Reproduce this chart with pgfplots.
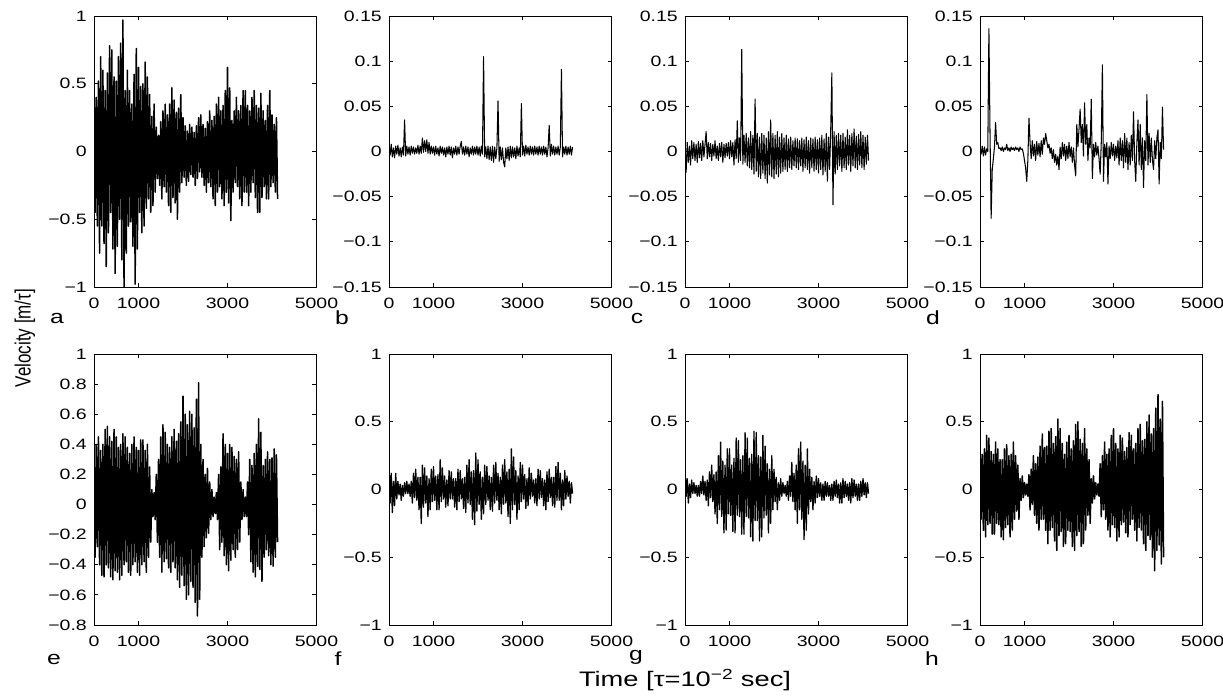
\documentclass[border=0pt]{standalone}
\usepackage{fontspec}
\setmainfont{Liberation Sans}
\usepackage{graphicx}
\usepackage{pgfplots}
\usepackage{pgfplotstable}
\pgfplotsset{compat=1.18}

% one value every 25 time steps
\pgfplotstableread[row sep=\\]{y\\
0.55\\ -0.45\\ 0.40\\ -0.55\\ 0.52\\ -0.75\\ 0.70\\ -0.55\\ 0.60\\ -0.68\\ 0.45\\ -0.85\\
0.58\\ -0.60\\ 0.78\\ -0.45\\ 0.75\\ -0.72\\ 0.55\\ -0.90\\ 0.52\\ -0.70\\ 0.70\\ -0.50\\
0.80\\ -0.80\\ 0.97\\ -1.00\\ 0.45\\ -0.75\\ 0.60\\ -0.55\\ 0.45\\ -0.52\\ 0.35\\ -0.70\\
0.57\\ -0.98\\ 0.76\\ -0.72\\ 0.62\\ -0.45\\ 0.48\\ -0.60\\ 0.50\\ -0.55\\ 0.66\\ -0.42\\
0.55\\ -0.35\\ 0.42\\ -0.45\\ 0.26\\ -0.40\\ 0.35\\ -0.30\\ 0.18\\ -0.20\\ 0.12\\ -0.25\\
0.22\\ -0.35\\ 0.30\\ -0.26\\ 0.35\\ -0.30\\ 0.27\\ -0.40\\ 0.35\\ -0.45\\ 0.47\\ -0.34\\
0.38\\ -0.38\\ 0.29\\ -0.50\\ 0.32\\ -0.30\\ 0.42\\ -0.23\\ 0.25\\ -0.19\\ 0.19\\ -0.25\\
0.15\\ -0.22\\ 0.20\\ -0.17\\ 0.18\\ -0.19\\ 0.14\\ -0.25\\ 0.19\\ -0.20\\ 0.25\\ -0.15\\
0.27\\ -0.19\\ 0.20\\ -0.25\\ 0.17\\ -0.30\\ 0.22\\ -0.23\\ 0.30\\ -0.26\\ 0.23\\ -0.35\\
0.26\\ -0.40\\ 0.35\\ -0.30\\ 0.40\\ -0.26\\ 0.30\\ -0.35\\ 0.34\\ -0.40\\ 0.45\\ -0.30\\
0.62\\ -0.38\\ 0.47\\ -0.51\\ 0.23\\ -0.30\\ 0.30\\ -0.23\\ 0.40\\ -0.26\\ 0.30\\ -0.35\\
0.34\\ -0.40\\ 0.45\\ -0.30\\ 0.45\\ -0.30\\ 0.34\\ -0.40\\ 0.30\\ -0.30\\ 0.40\\ -0.23\\
0.45\\ -0.34\\ 0.34\\ -0.45\\ 0.32\\ -0.45\\ 0.43\\ -0.34\\ 0.30\\ -0.26\\ 0.23\\ -0.35\\
0.34\\ -0.35\\ 0.45\\ -0.26\\ 0.27\\ -0.23\\ 0.20\\ -0.30\\ 0.25\\ -0.35\\
}\tA

\pgfplotstableread[row sep=\\]{y\\
0.005\\ -0.004\\ 0.008\\ -0.006\\ 0.004\\ -0.007\\ 0.006\\ -0.003\\ 0.007\\ -0.005\\
0.004\\ -0.006\\ 0.005\\ -0.004\\ 0.035\\ -0.005\\ 0.006\\ -0.003\\ 0.005\\ -0.004\\
0.006\\ -0.002\\ 0.005\\ -0.003\\ 0.004\\ -0.002\\ 0.007\\ -0.003\\ 0.006\\ -0.002\\
0.015\\ -0.001\\ 0.012\\ 0.000\\ 0.013\\ -0.002\\ 0.010\\ -0.003\\ 0.006\\ -0.002\\
0.005\\ -0.004\\ 0.006\\ -0.003\\ 0.004\\ -0.005\\ 0.006\\ -0.002\\ 0.005\\ -0.004\\
0.004\\ -0.006\\ 0.005\\ -0.003\\ 0.006\\ -0.004\\ 0.005\\ -0.007\\ 0.004\\ -0.003\\
0.006\\ -0.004\\ 0.005\\ -0.003\\ 0.006\\ 0.011\\ -0.003\\ 0.005\\ -0.004\\ 0.006\\
-0.003\\ 0.005\\ -0.006\\ 0.004\\ -0.003\\ 0.006\\ -0.004\\ 0.005\\ -0.003\\ 0.006\\
-0.004\\ 0.005\\ -0.005\\ 0.006\\ -0.003\\ 0.105\\ -0.006\\ 0.005\\ -0.008\\ 0.006\\
-0.009\\ 0.005\\ -0.010\\ 0.006\\ -0.012\\ 0.005\\ -0.008\\ 0.004\\ 0.056\\ -0.011\\
0.005\\ -0.009\\ 0.004\\ -0.012\\ -0.017\\ 0.004\\ -0.008\\ 0.005\\ -0.010\\ 0.006\\
-0.007\\ 0.005\\ -0.006\\ 0.004\\ -0.008\\ 0.006\\ -0.005\\ 0.004\\ -0.006\\ 0.053\\
-0.004\\ 0.006\\ -0.005\\ 0.007\\ -0.003\\ 0.005\\ -0.004\\ 0.006\\ -0.003\\ 0.005\\
-0.004\\ 0.006\\ -0.003\\ 0.005\\ -0.004\\ 0.006\\ -0.003\\ 0.005\\ -0.004\\ 0.006\\
-0.003\\ 0.005\\ -0.006\\ 0.004\\ 0.029\\ -0.005\\ 0.008\\ -0.003\\ 0.006\\ -0.004\\
0.005\\ -0.003\\ 0.006\\ -0.004\\ 0.005\\ 0.091\\ -0.006\\ 0.005\\ -0.003\\ 0.006\\
-0.004\\ 0.005\\ -0.003\\ 0.006\\ -0.004\\ 0.005\\
}\tB

\pgfplotstableread[row sep=\\]{y\\
0.008\\ -0.023\\ 0.010\\ -0.012\\ 0.006\\ -0.015\\ 0.012\\ -0.008\\ 0.010\\ -0.010\\
0.008\\ -0.012\\ 0.011\\ -0.007\\ 0.009\\ -0.010\\ 0.012\\ -0.006\\ 0.008\\ 0.022\\
-0.008\\ 0.010\\ -0.006\\ 0.009\\ -0.010\\ 0.008\\ -0.005\\ 0.012\\ -0.008\\ 0.006\\
-0.010\\ 0.009\\ -0.006\\ 0.010\\ -0.012\\ 0.008\\ -0.007\\ 0.009\\ -0.005\\ 0.010\\
-0.008\\ 0.012\\ -0.006\\ 0.010\\ -0.015\\ 0.013\\ -0.008\\ 0.034\\ -0.012\\ 0.015\\
-0.010\\ 0.113\\ -0.014\\ 0.018\\ -0.012\\ 0.020\\ -0.016\\ 0.015\\ -0.018\\ 0.022\\
-0.020\\ 0.018\\ -0.025\\ 0.058\\ -0.022\\ 0.020\\ -0.028\\ 0.016\\ -0.030\\ 0.020\\
-0.024\\ 0.018\\ -0.030\\ 0.015\\ -0.035\\ 0.022\\ -0.026\\ 0.035\\ -0.028\\ 0.020\\
-0.030\\ 0.018\\ -0.025\\ 0.022\\ -0.028\\ 0.016\\ -0.024\\ 0.020\\ -0.022\\ 0.015\\
-0.020\\ 0.018\\ -0.022\\ 0.014\\ -0.018\\ 0.016\\ -0.020\\ 0.012\\ -0.016\\ 0.015\\
-0.018\\ 0.014\\ -0.020\\ 0.012\\ -0.016\\ 0.015\\ -0.022\\ 0.013\\ -0.018\\ 0.016\\
-0.020\\ 0.012\\ -0.024\\ 0.015\\ -0.018\\ 0.014\\ -0.022\\ 0.016\\ -0.020\\ 0.013\\
-0.024\\ 0.015\\ -0.020\\ 0.018\\ -0.026\\ 0.014\\ -0.022\\ 0.020\\ -0.033\\ 0.016\\
-0.020\\ 0.025\\ 0.087\\ -0.059\\ 0.022\\ -0.025\\ 0.018\\ -0.020\\ 0.020\\ -0.016\\
0.018\\ -0.022\\ 0.020\\ -0.018\\ 0.016\\ -0.020\\ 0.024\\ -0.015\\ 0.018\\ -0.022\\
0.020\\ -0.016\\ 0.025\\ -0.018\\ 0.017\\ -0.020\\ 0.019\\ -0.015\\ 0.022\\ -0.018\\
0.018\\ -0.020\\ 0.016\\ -0.014\\ 0.018\\ -0.010\\
}\tC

\pgfplotstableread[row sep=\\]{y\\
0.004\\ -0.003\\ 0.006\\ -0.005\\ 0.005\\ -0.004\\ 0.003\\ 0.000\\
0.136\\ 0.020\\ -0.074\\ -0.020\\ -0.008\\ 0.005\\ 0.032\\ 0.008\\ 0.010\\ 0.003\\
0.004\\ 0.001\\ 0.005\\ 0.000\\ 0.004\\ 0.002\\ 0.008\\ 0.001\\ 0.004\\ 0.000\\ 0.005\\
0.002\\ 0.004\\ 0.001\\ 0.005\\ 0.002\\ 0.004\\ 0.000\\ 0.005\\ 0.002\\ 0.003\\ -0.002\\
-0.010\\ -0.018\\ -0.033\\ -0.010\\ 0.037\\
0.010\\ -0.008\\ 0.012\\ -0.005\\ 0.008\\ -0.010\\ 0.011\\ -0.004\\ 0.009\\ -0.006\\
0.012\\ -0.003\\ 0.015\\ 0.008\\ 0.020\\
0.012\\ 0.004\\ 0.008\\ -0.002\\ 0.004\\ -0.008\\ 0.002\\ -0.012\\ -0.003\\ -0.015\\ -0.005\\ -0.020\\
0.005\\ -0.008\\ 0.010\\ -0.005\\ 0.008\\ -0.010\\ 0.006\\ -0.008\\ 0.010\\ -0.006\\ 0.005\\ -0.012\\ 0.004\\ -0.015\\
-0.027\\ 0.030\\ 0.005\\ 0.025\\ 0.047\\ 0.010\\ 0.030\\ -0.005\\ 0.054\\ 0.008\\ 0.030\\ -0.010\\ 0.015\\ 0.004\\
0.058\\ -0.030\\ 0.008\\ -0.006\\ 0.010\\ -0.004\\ 0.006\\ -0.008\\
-0.025\\ 0.010\\ 0.096\\ -0.033\\
0.008\\ -0.006\\ 0.010\\ -0.036\\ 0.006\\ -0.008\\ 0.010\\ -0.005\\ 0.008\\ -0.010\\ 0.006\\ -0.007\\
0.012\\ -0.015\\ 0.015\\ -0.010\\ 0.012\\ -0.018\\ 0.020\\ -0.012\\ 0.015\\ -0.020\\ 0.010\\ -0.015\\ 0.018\\ -0.010\\
0.044\\ -0.010\\ -0.033\\ 0.010\\ 0.035\\ -0.015\\ 0.030\\ -0.020\\ 0.015\\ -0.040\\
0.012\\ -0.010\\ 0.063\\ -0.015\\ 0.020\\ -0.012\\ 0.015\\ -0.010\\ -0.020\\ 0.012\\
-0.008\\ 0.015\\ 0.024\\ -0.036\\ 0.010\\ -0.008\\ 0.049\\ 0.002\\
}\tD

\pgfplotstableread[row sep=\\]{y\\
0.30\\ -0.35\\ 0.40\\ -0.28\\ 0.45\\ -0.40\\ 0.36\\ -0.47\\ 0.40\\ -0.48\\ 0.50\\ -0.40\\
0.52\\ -0.42\\ 0.45\\ -0.48\\ 0.42\\ -0.50\\ 0.50\\ -0.44\\ 0.45\\ -0.45\\ 0.38\\ -0.50\\
0.40\\ -0.47\\ 0.47\\ -0.40\\ 0.45\\ -0.38\\ 0.38\\ -0.45\\ 0.34\\ -0.47\\ 0.40\\ -0.40\\
0.45\\ -0.38\\ 0.38\\ -0.45\\ 0.36\\ -0.47\\ 0.43\\ -0.40\\ 0.43\\ -0.38\\ 0.36\\ -0.45\\
0.40\\ -0.35\\ 0.25\\ -0.25\\ 0.10\\ -0.08\\ 0.08\\ -0.10\\ 0.20\\ -0.25\\ 0.30\\ -0.35\\
0.45\\ -0.45\\ 0.53\\ -0.38\\ 0.48\\ -0.36\\ 0.40\\ -0.42\\ 0.38\\ -0.45\\ 0.45\\ -0.38\\
0.50\\ -0.42\\ 0.42\\ -0.50\\ 0.47\\ -0.55\\ 0.55\\ -0.47\\ 0.72\\ -0.54\\ 0.60\\ -0.63\\
0.53\\ -0.60\\ 0.62\\ -0.51\\ 0.60\\ -0.55\\ 0.51\\ -0.65\\ 0.70\\ -0.74\\ 0.81\\ -0.63\\
0.40\\ -0.35\\ 0.30\\ -0.28\\ 0.20\\ -0.22\\ 0.24\\ -0.19\\ 0.15\\ -0.10\\ 0.10\\ -0.08\\
0.05\\ -0.06\\ 0.08\\ -0.10\\ 0.20\\ -0.30\\ 0.25\\ -0.25\\ 0.47\\ -0.34\\ 0.40\\ -0.40\\
0.34\\ -0.44\\ 0.40\\ -0.37\\ 0.38\\ -0.30\\ 0.32\\ -0.35\\ 0.30\\ -0.30\\ 0.35\\ -0.25\\
0.15\\ -0.10\\ 0.10\\ -0.08\\ 0.05\\ -0.08\\ 0.15\\ -0.20\\ 0.30\\ -0.38\\ 0.26\\ -0.45\\
0.34\\ -0.48\\ 0.40\\ -0.41\\ 0.57\\ -0.43\\ 0.48\\ -0.51\\ 0.26\\ -0.35\\ 0.30\\ -0.30\\
0.35\\ -0.34\\ 0.30\\ -0.40\\ 0.31\\ -0.41\\ 0.37\\ -0.35\\ 0.33\\ -0.25\\
}\tE

\pgfplotstableread[row sep=\\]{y\\
0.20\\ -0.10\\ 0.12\\ -0.17\\ 0.06\\ -0.12\\ 0.12\\ -0.07\\ 0.06\\ -0.04\\ 0.04\\ -0.08\\
0.03\\ -0.05\\ 0.05\\ -0.03\\ 0.06\\ -0.03\\ 0.04\\ -0.05\\ 0.06\\ -0.10\\ 0.12\\ -0.06\\
0.15\\ -0.08\\ 0.09\\ -0.15\\ 0.09\\ -0.25\\ 0.18\\ -0.13\\ 0.16\\ -0.10\\ 0.10\\ -0.20\\
0.08\\ -0.15\\ 0.15\\ -0.09\\ 0.17\\ -0.08\\ 0.10\\ -0.15\\ 0.11\\ -0.15\\ 0.22\\ -0.09\\
0.16\\ -0.07\\ 0.10\\ -0.13\\ 0.07\\ -0.12\\ 0.14\\ -0.07\\ 0.13\\ -0.07\\ 0.08\\ -0.13\\
0.08\\ -0.15\\ 0.15\\ -0.09\\ 0.14\\ -0.07\\ 0.08\\ -0.14\\ 0.09\\ -0.17\\ 0.18\\ -0.10\\
0.22\\ -0.11\\ 0.13\\ -0.22\\ 0.14\\ -0.26\\ 0.27\\ -0.16\\ 0.22\\ -0.11\\ 0.13\\ -0.22\\
0.09\\ -0.18\\ 0.18\\ -0.11\\ 0.17\\ -0.08\\ 0.10\\ -0.15\\ 0.09\\ -0.16\\ 0.18\\ -0.10\\
0.20\\ -0.08\\ 0.12\\ -0.15\\ 0.09\\ -0.18\\ 0.18\\ -0.11\\ 0.22\\ -0.10\\ 0.13\\ -0.20\\
0.15\\ -0.25\\ 0.30\\ -0.15\\ 0.24\\ -0.11\\ 0.14\\ -0.22\\ 0.10\\ -0.15\\ 0.20\\ -0.09\\
0.18\\ -0.07\\ 0.11\\ -0.14\\ 0.08\\ -0.12\\ 0.16\\ -0.07\\ 0.12\\ -0.05\\ 0.07\\ -0.10\\
0.08\\ -0.12\\ 0.15\\ -0.07\\ 0.14\\ -0.06\\ 0.08\\ -0.12\\ 0.07\\ -0.15\\ 0.13\\ -0.09\\
0.15\\ -0.06\\ 0.09\\ -0.12\\ 0.09\\ -0.13\\ 0.17\\ -0.08\\ 0.20\\ -0.08\\ 0.12\\ -0.15\\
0.07\\ -0.12\\ 0.14\\ -0.07\\ 0.10\\ -0.05\\ 0.06\\ -0.10\\ 0.05\\ -0.03\\
}\tF

\pgfplotstableread[row sep=\\]{y\\
0.15\\ -0.05\\ 0.08\\ -0.10\\ 0.04\\ -0.06\\ 0.07\\ -0.03\\ 0.05\\ -0.03\\ 0.03\\ -0.05\\
0.03\\ -0.05\\ 0.06\\ -0.03\\ 0.10\\ -0.04\\ 0.06\\ -0.08\\ 0.07\\ -0.12\\ 0.13\\ -0.06\\
0.18\\ -0.09\\ 0.11\\ -0.18\\ 0.13\\ -0.25\\ 0.25\\ -0.15\\ 0.35\\ -0.20\\ 0.21\\ -0.32\\
0.18\\ -0.30\\ 0.30\\ -0.18\\ 0.30\\ -0.19\\ 0.18\\ -0.31\\ 0.23\\ -0.32\\ 0.38\\ -0.19\\
0.36\\ -0.20\\ 0.22\\ -0.33\\ 0.25\\ -0.33\\ 0.42\\ -0.20\\ 0.38\\ -0.21\\ 0.23\\ -0.35\\
0.26\\ -0.38\\ 0.43\\ -0.23\\ 0.42\\ -0.23\\ 0.25\\ -0.38\\ 0.24\\ -0.35\\ 0.40\\ -0.21\\
0.32\\ -0.19\\ 0.19\\ -0.32\\ 0.15\\ -0.25\\ 0.25\\ -0.15\\ 0.15\\ -0.09\\ 0.09\\ -0.15\\
0.05\\ -0.08\\ 0.08\\ -0.05\\ 0.05\\ -0.03\\ 0.03\\ -0.05\\ 0.06\\ -0.08\\ 0.10\\ -0.05\\
0.20\\ -0.09\\ 0.12\\ -0.15\\ 0.18\\ -0.25\\ 0.30\\ -0.15\\ 0.35\\ -0.22\\ 0.21\\ -0.37\\
0.18\\ -0.30\\ 0.30\\ -0.18\\ 0.15\\ -0.09\\ 0.09\\ -0.15\\ 0.06\\ -0.10\\ 0.10\\ -0.06\\
0.08\\ -0.05\\ 0.05\\ -0.08\\ 0.04\\ -0.08\\ 0.06\\ -0.05\\ 0.05\\ -0.05\\ 0.03\\ -0.08\\
0.04\\ -0.08\\ 0.06\\ -0.05\\ 0.07\\ -0.06\\ 0.04\\ -0.10\\ 0.05\\ -0.10\\ 0.08\\ -0.06\\
0.06\\ -0.05\\ 0.04\\ -0.08\\ 0.05\\ -0.10\\ 0.08\\ -0.06\\ 0.07\\ -0.05\\ 0.04\\ -0.08\\
0.04\\ -0.08\\ 0.06\\ -0.05\\ 0.08\\ -0.04\\ 0.05\\ -0.06\\ 0.05\\ -0.03\\
}\tG

\pgfplotstableread[row sep=\\]{y\\
0.35\\ -0.22\\ 0.26\\ -0.30\\ 0.30\\ -0.35\\ 0.40\\ -0.26\\ 0.38\\ -0.25\\ 0.28\\ -0.33\\
0.26\\ -0.33\\ 0.35\\ -0.25\\ 0.30\\ -0.26\\ 0.22\\ -0.35\\ 0.22\\ -0.37\\ 0.30\\ -0.28\\
0.33\\ -0.26\\ 0.25\\ -0.35\\ 0.26\\ -0.30\\ 0.35\\ -0.22\\ 0.25\\ -0.16\\ 0.18\\ -0.22\\
0.08\\ -0.08\\ 0.10\\ -0.06\\ 0.05\\ -0.04\\ 0.04\\ -0.05\\ 0.11\\ -0.15\\ 0.15\\ -0.11\\
0.25\\ -0.19\\ 0.19\\ -0.25\\ 0.24\\ -0.30\\ 0.32\\ -0.22\\ 0.41\\ -0.22\\ 0.31\\ -0.30\\
0.32\\ -0.40\\ 0.43\\ -0.30\\ 0.45\\ -0.28\\ 0.34\\ -0.38\\ 0.39\\ -0.45\\ 0.52\\ -0.34\\
0.45\\ -0.31\\ 0.34\\ -0.42\\ 0.26\\ -0.40\\ 0.35\\ -0.30\\ 0.40\\ -0.31\\ 0.30\\ -0.42\\
0.36\\ -0.45\\ 0.48\\ -0.34\\ 0.50\\ -0.31\\ 0.37\\ -0.42\\ 0.34\\ -0.40\\ 0.45\\ -0.30\\
0.30\\ -0.19\\ 0.22\\ -0.25\\ 0.08\\ -0.10\\ 0.10\\ -0.07\\ 0.05\\ -0.04\\ 0.04\\ -0.05\\
0.19\\ -0.20\\ 0.25\\ -0.15\\ 0.35\\ -0.22\\ 0.26\\ -0.30\\ 0.30\\ -0.35\\ 0.40\\ -0.26\\
0.45\\ -0.28\\ 0.34\\ -0.38\\ 0.30\\ -0.35\\ 0.40\\ -0.26\\ 0.38\\ -0.24\\ 0.28\\ -0.32\\
0.31\\ -0.35\\ 0.42\\ -0.26\\ 0.40\\ -0.22\\ 0.30\\ -0.30\\ 0.34\\ -0.38\\ 0.45\\ -0.28\\
0.48\\ -0.30\\ 0.36\\ -0.40\\ 0.37\\ -0.45\\ 0.50\\ -0.34\\ 0.55\\ -0.37\\ 0.41\\ -0.50\\
0.45\\ -0.60\\ 0.60\\ -0.45\\ 0.70\\ -0.41\\ 0.52\\ -0.55\\ 0.65\\ -0.50\\
}\tH

\pgfplotsset{
  panel/.style={
    anchor=south west, scale only axis,
    width=222.5pt, height=271pt,
    xmin=0, xmax=5000,
    xtick={0,1000,3000,5000}, xticklabels={0,1000,3000,5000},
    major tick length=4pt,
    axis line style={line width=0.8pt},
    every tick/.style={line width=0.8pt, black},
    tick label style={font=\fontsize{15}{15}\selectfont, xscale=1.3},
    xticklabel style={yshift=-7pt},
    yticklabel style={xshift=-2pt},
  },
  small/.style={ymin=-0.15, ymax=0.15,
    ytick={-0.15,-0.1,-0.05,0,0.05,0.1,0.15},
    yticklabels={−0.15,−0.1,−0.05,0,0.05,0.1,0.15}},
  unit/.style={ymin=-1, ymax=1, ytick={-1,-0.5,0,0.5,1},
    yticklabels={−1,−0.5,0,0.5,1}},
  sig/.style={black, line width=1.5pt, no markers, line join=round},
  thin sig/.style={black, line width=1.05pt, no markers, line join=round},
}
\newcommand{\lbl}[1]{\fontsize{19}{20}\selectfont #1}

\begin{document}
\begin{tikzpicture}[x=1pt,y=1pt]
\useasboundingbox (0,0) rectangle (1223,697);

\begin{axis}[panel, unit, at={(94pt,410pt)}]
\addplot[sig] table[x expr=\coordindex*25, y index=0] {\tA};
\end{axis}
\begin{axis}[panel, small, at={(389pt,410pt)}]
\addplot[thin sig] table[x expr=\coordindex*25, y index=0] {\tB};
\end{axis}
\begin{axis}[panel, small, at={(685pt,410pt)}]
\addplot[thin sig] table[x expr=\coordindex*25, y index=0] {\tC};
\end{axis}
\begin{axis}[panel, small, at={(980pt,410pt)}]
\addplot[thin sig] table[x expr=\coordindex*25, y index=0] {\tD};
\end{axis}

\begin{axis}[panel, at={(94pt,72pt)}, ymin=-0.8, ymax=1,
  ytick={-0.8,-0.6,-0.4,-0.2,0,0.2,0.4,0.6,0.8,1},
  yticklabels={−0.8,−0.6,−0.4,−0.2,0,0.2,0.4,0.6,0.8,1}]
\addplot[sig] table[x expr=\coordindex*25, y index=0] {\tE};
\end{axis}
\begin{axis}[panel, unit, at={(389pt,72pt)}]
\addplot[sig, line width=1.3pt] table[x expr=\coordindex*25, y index=0] {\tF};
\end{axis}
\begin{axis}[panel, unit, at={(685pt,72pt)}]
\addplot[sig, line width=1.3pt] table[x expr=\coordindex*25, y index=0] {\tG};
\end{axis}
\begin{axis}[panel, unit, at={(980pt,72pt)}]
\addplot[sig] table[x expr=\coordindex*25, y index=0] {\tH};
\end{axis}

\node[xscale=1.3] at (57,379) {\lbl{a}};
\node[xscale=1.3] at (342,379) {\lbl{b}};
\node[xscale=1.3] at (637,379) {\lbl{c}};
\node[xscale=1.3] at (933,379) {\lbl{d}};
\node[xscale=1.3] at (54,38) {\lbl{e}};
\node[xscale=1.3] at (338,38) {\lbl{f}};
\node[xscale=1.3] at (636,40) {\lbl{g}};
\node[xscale=1.3] at (932,38) {\lbl{h}};

\node[rotate=90] at (25,359) {\scalebox{1}[1.3]{\fontsize{17}{18}\selectfont Velocity [m/τ]}};
\node[xscale=1.3] at (685,17) {\fontsize{21}{22}\selectfont Time [τ=10\textsuperscript{−2} sec]};
\end{tikzpicture}
\end{document}
